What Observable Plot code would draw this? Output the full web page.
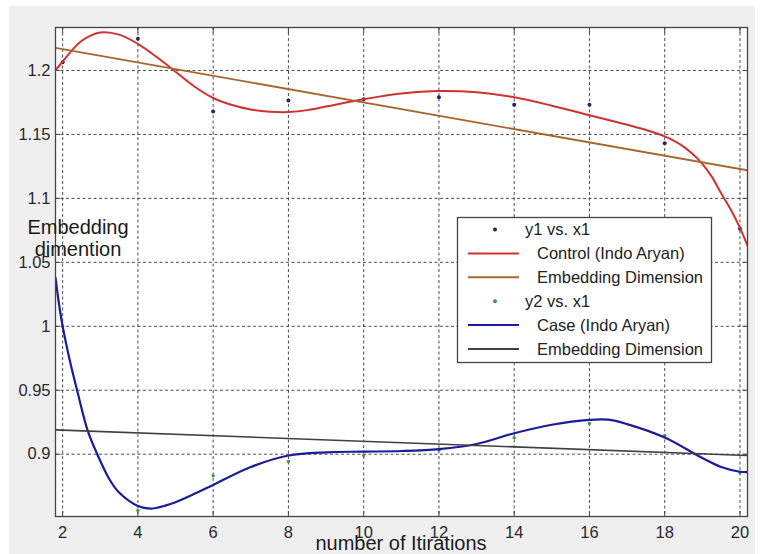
<!DOCTYPE html>
<html><head><meta charset="utf-8">
<script src="https://cdn.jsdelivr.net/npm/d3@7"></script>
<script src="https://cdn.jsdelivr.net/npm/@observablehq/plot@0.6"></script>
<style>
html,body{margin:0;padding:0;background:#fff;}
#wrap{position:relative;width:763px;height:554px;background:#fff;overflow:hidden;font-family:"Liberation Sans",Arial,sans-serif;}
#bg{position:absolute;left:9px;top:6px;width:746px;height:548px;background:#efefef;}
#chart{position:absolute;left:0;top:0;}
#ylab{position:absolute;left:18px;top:216px;width:120px;text-align:center;font-size:20px;line-height:22px;color:#1a1a1a;}
#xlab{position:absolute;left:401px;top:533px;transform:translateX(-50%);font-size:20px;line-height:21px;color:#1a1a1a;white-space:nowrap;}
#legend{position:absolute;left:0;top:0;}
</style></head><body>
<div id="wrap">
  <div id="bg"></div>
  <div id="chart"></div>
  <div id="ylab">Embedding<br>dimention</div>
  <div id="xlab">number of Itirations</div>
  <svg id="legend" width="763" height="554"></svg>
</div>
<script>
// ---- data ----
const xPoints = [2, 4, 6, 8, 10, 12, 14, 16, 18, 20];
const y1Values = [1.2065, 1.2248, 1.168, 1.1766, 1.1776, 1.179, 1.1732, 1.1732, 1.1432, 1.0763];
const y2Values = [1.000, 0.856, 0.8831, 0.8943, 0.899, 0.903, 0.9128, 0.924, 0.9146, 0.8855];

const controlX = [1.81, 2.0, 2.5, 3.0, 3.5, 4.0, 4.5, 5.0, 5.5, 6.0, 6.5, 7.0, 7.5, 8.0, 8.5, 9.0, 10.0, 11.0, 12.0, 13.0, 14.0, 15.0, 16.0, 17.0, 17.5, 18.0, 18.25, 18.5, 18.75, 19.0, 19.25, 19.5, 19.75, 20.0, 20.2];
const controlY = [1.200, 1.207, 1.223, 1.2297, 1.228, 1.2208, 1.2105, 1.199, 1.1875, 1.1785, 1.173, 1.1695, 1.1678, 1.1675, 1.169, 1.1718, 1.1775, 1.182, 1.184, 1.183, 1.179, 1.1725, 1.165, 1.1575, 1.1535, 1.1485, 1.145, 1.1405, 1.1345, 1.127, 1.117, 1.104, 1.0915, 1.077, 1.063];

const caseX = [1.81, 1.9, 2.0, 2.2, 2.4, 2.67, 2.92, 3.25, 3.5, 4.0, 4.34, 4.75, 5.0, 5.5, 6.0, 7.0, 8.0, 9.0, 10.0, 11.0, 12.0, 13.0, 14.0, 15.0, 16.0, 16.5, 17.0, 18.0, 19.0, 19.5, 20.0, 20.2];
const caseY = [1.038, 1.018, 1.000, 0.972, 0.948, 0.918, 0.900, 0.880, 0.870, 0.8595, 0.8575, 0.860, 0.8625, 0.869, 0.876, 0.890, 0.899, 0.9015, 0.902, 0.9025, 0.904, 0.908, 0.9164, 0.923, 0.9268, 0.927, 0.9235, 0.913, 0.897, 0.890, 0.8863, 0.886];

const embedX = [1.81, 20.2];
const embedControlY = [1.2177, 1.1219];
const embedCaseY = [0.919, 0.899];

const xTicks = [2, 4, 6, 8, 10, 12, 14, 16, 18, 20];
const yTicks = [0.9, 0.95, 1, 1.05, 1.1, 1.15, 1.2];
const xDomain = [1.81, 20.2];
const yDomain = [0.8513, 1.2336];

const legendLabels = ["y1 vs. x1", "Control (Indo Aryan)", "Embedding Dimension", "y2 vs. x1", "Case (Indo Aryan)", "Embedding Dimension"];

// ---- styles ----
const C = {dots1: "#2a2070", control: "#d03232", embed1: "#a8652e", dots2: "#3f9a3f", caseC: "#1c1c9a", embed2: "#404040"};
const legendKinds = ["dot", "line", "line", "dot", "line", "line"];
const legendColors = [C.dots1, C.control, C.embed1, C.dots2, C.caseC, C.embed2];

const pts = (xs, ys) => xs.map((x, i) => ({x, y: ys[i]}));
const y1Data = pts(xPoints, y1Values);
const y2Data = pts(xPoints, y2Values);
const controlData = pts(controlX, controlY);
const caseData = pts(caseX, caseY);
const embed1Data = pts(embedX, embedControlY);
const embed2Data = pts(embedX, embedCaseY);

const grid = {stroke: "#222", strokeOpacity: 0.8, strokeDasharray: "3,2.5", strokeWidth: 1};
const fmt = d => String(+d.toFixed(2));

const chart = Plot.plot({
  width: 763, height: 554,
  marginLeft: 55, marginRight: 16, marginTop: 27, marginBottom: 38,
  x: {domain: xDomain},
  y: {domain: yDomain},
  style: {background: "transparent", fontFamily: "'Liberation Sans', Arial, sans-serif", fontSize: "16px", color: "#2a2a2a", overflow: "visible"},
  marks: [
    Plot.frame({fill: "white", stroke: "none"}),
    Plot.gridX(xTicks, grid),
    Plot.gridY(yTicks, grid),
    Plot.axisX(xTicks, {anchor: "bottom", tickSize: 0, tickPadding: 10, tickFormat: fmt, label: null, fontSize: 16.5}),
    Plot.axisY(yTicks, {anchor: "left", tickSize: 0, tickPadding: 5, tickFormat: fmt, label: null, fontSize: 16.5}),
    Plot.axisX(xTicks, {anchor: "bottom", tickSize: 5, dy: -5, tickFormat: () => "", label: null, stroke: "#444"}),
    Plot.axisX(xTicks, {anchor: "top", tickSize: 5, dy: 5, tickFormat: () => "", label: null, stroke: "#444"}),
    Plot.axisY(yTicks, {anchor: "left", tickSize: 5, dx: 5, tickFormat: () => "", label: null, stroke: "#444"}),
    Plot.axisY(yTicks, {anchor: "right", tickSize: 5, dx: -5, tickFormat: () => "", label: null, stroke: "#444"}),
    Plot.dot(y1Data, {x: "x", y: "y", r: 2, fill: C.dots1, stroke: "none"}),
    Plot.line(controlData, {x: "x", y: "y", curve: "catmull-rom", stroke: C.control, strokeWidth: 2, clip: true}),
    Plot.line(embed1Data, {x: "x", y: "y", stroke: C.embed1, strokeWidth: 1.8, clip: true}),
    Plot.dot(y2Data, {x: "x", y: "y", r: 1.7, fill: C.dots2, stroke: "none"}),
    Plot.line(caseData, {x: "x", y: "y", curve: "catmull-rom", stroke: C.caseC, strokeWidth: 2.2, clip: true}),
    Plot.line(embed2Data, {x: "x", y: "y", stroke: C.embed2, strokeWidth: 1.6, clip: true}),
    Plot.frame({stroke: "#444", strokeWidth: 1.3})
  ]
});
document.getElementById("chart").appendChild(chart);

// ---- legend ----
const lg = d3.select("#legend");
lg.append("rect").attr("x", 457.5).attr("y", 217.5).attr("width", 254).attr("height", 145)
  .attr("fill", "white").attr("stroke", "#444").attr("stroke-width", 1.3);
legendLabels.forEach((t, i) => {
  const cy = 229.5 + i * 23.9;
  if (legendKinds[i] === "dot") {
    lg.append("circle").attr("cx", 495).attr("cy", cy).attr("r", 2).attr("fill", legendColors[i]);
    lg.append("text").attr("x", 525).attr("y", cy).attr("dy", "0.35em").text(t)
      .attr("font-family", "'Liberation Sans', Arial, sans-serif").attr("font-size", 16.5).attr("fill", "#222");
  } else {
    lg.append("line").attr("x1", 468).attr("x2", 519).attr("y1", cy).attr("y2", cy)
      .attr("stroke", legendColors[i]).attr("stroke-width", 2);
    lg.append("text").attr("x", 537).attr("y", cy).attr("dy", "0.35em").text(t)
      .attr("font-family", "'Liberation Sans', Arial, sans-serif").attr("font-size", 16.5).attr("fill", "#222");
  }
});
</script>
</body></html>
